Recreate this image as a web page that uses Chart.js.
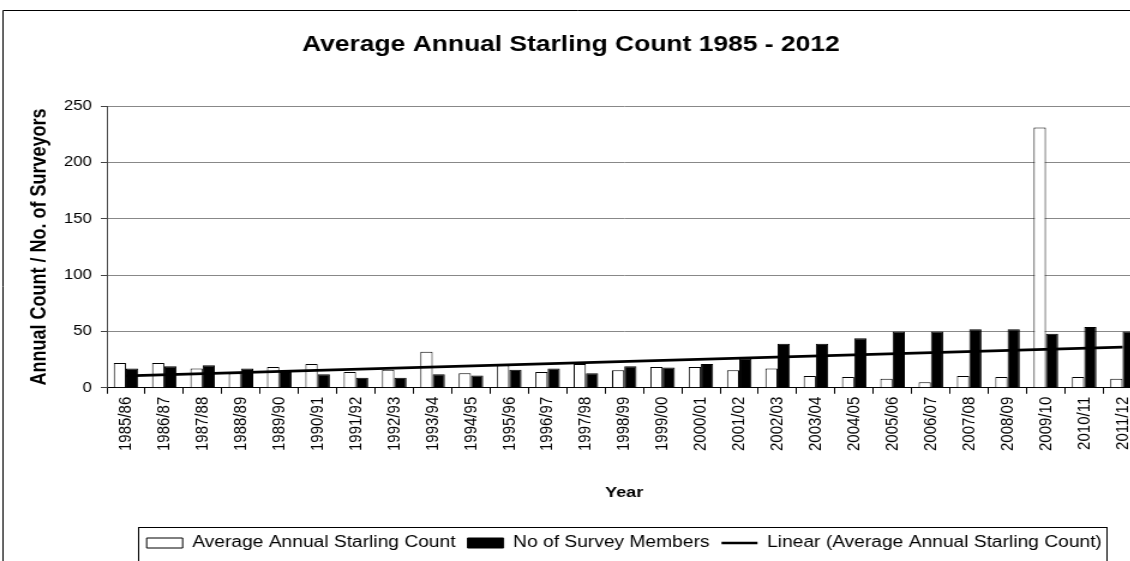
<!DOCTYPE html>
<html>
<head>
<meta charset="utf-8">
<script src="https://cdn.jsdelivr.net/npm/chart.js@4/dist/chart.umd.min.js"></script>
<style>
  html, body { margin: 0; padding: 0; background: #fff; overflow: hidden; }
  #wrap { width: 1130px; height: 561px; overflow: hidden; }
  /* the original Excel chart was stretched sideways, text included */
  #starlings { transform: scaleX(1.2); transform-origin: 0 0; }
</style>
</head>
<body>
<div id="wrap"><canvas id="starlings" width="959" height="561"></canvas></div>
<script>
// values
let years = ["1985/86", "1986/87", "1987/88", "1988/89", "1989/90", "1990/91", "1991/92",
    "1992/93", "1993/94", "1994/95", "1995/96", "1996/97", "1997/98", "1998/99", "1999/00",
    "2000/01", "2001/02", "2002/03", "2003/04", "2004/05", "2005/06", "2006/07", "2007/08",
    "2008/09", "2009/10", "2010/11", "2011/12"]
let starlingCount = [22, 22, 17, 13, 18.5, 21, 14, 16, 32, 13, 20, 14, 21, 15.5, 18.5,
    18.5, 15.5, 17, 10.5, 9.5, 8, 5, 10.5, 9.5, 231, 9.5, 8]
let surveyMembers = [17, 19, 20, 17, 14, 12, 9, 9, 12, 11, 16, 17, 13, 19, 18,
    21, 26, 39, 39, 44, 50, 50, 52, 52, 48, 54, 50]
// end points of the Excel linear trendline
let trendStart = 10.6
let trendEnd = 36.1
let yTicks = [0, 50, 100, 150, 200, 250]

let trend = years.map(() => null)
trend[0] = trendStart
trend[trend.length - 1] = trendEnd

let fontFamily = "'Liberation Sans', Arial, sans-serif"

// outer chart border and the box round the legend
let frames = {
    id: "frames",
    beforeDraw(chart) {
        let ctx = chart.ctx
        ctx.save()
        ctx.strokeStyle = "#000"
        ctx.lineWidth = 1
        ctx.beginPath()
        ctx.moveTo(2.5, 600)
        ctx.lineTo(2.5, 10.5)
        ctx.lineTo(1000, 10.5)
        ctx.stroke()
        ctx.restore()
    },
    afterDraw(chart) {
        let boxes = chart.legend.legendHitBoxes
        if (!boxes || !boxes.length) return
        let left = Math.min(...boxes.map(b => b.left))
        let right = Math.max(...boxes.map(b => b.left + b.width))
        let top = boxes[0].top
        let ctx = chart.ctx
        ctx.save()
        ctx.strokeStyle = "#000"
        ctx.lineWidth = 1
        ctx.strokeRect(Math.round(left - 7) + 0.5, Math.round(top - 8) + 0.5,
            Math.round(right - left + 11), 60)
        ctx.restore()
    }
}

let ctx = document.getElementById("starlings").getContext("2d")
let chart = new Chart(ctx, {
    type: "bar",
    data: {
        labels: years,
        datasets: [{
            label: "Average Annual Starling Count",
            data: starlingCount,
            backgroundColor: "#ffffff",
            borderColor: "#000000",
            borderWidth: 1,
            order: 1
        }, {
            label: "No of Survey Members",
            data: surveyMembers,
            backgroundColor: "#000000",
            borderColor: "#000000",
            borderWidth: 1,
            order: 1
        }, {
            type: "line",
            label: "Linear (Average Annual Starling Count)",
            data: trend,
            borderColor: "#000000",
            borderWidth: 2.6,
            pointRadius: 0,
            spanGaps: true,
            fill: false,
            order: 0
        }]
    },
    options: {
        responsive: false,
        animation: false,
        categoryPercentage: 0.64,
        barPercentage: 1.0,
        layout: { padding: { left: 0, right: 7.6, top: 0, bottom: 0 } },
        plugins: {
            tooltip: { enabled: false },
            title: {
                display: true,
                text: "Average Annual Starling Count 1985 - 2012",
                color: "#000",
                font: { family: fontFamily, size: 22, weight: "bold" },
                padding: { top: 32, bottom: 47.6 }
            },
            legend: {
                position: "bottom",
                fullSize: false,
                labels: {
                    color: "#000",
                    font: { family: fontFamily, size: 16 },
                    usePointStyle: true,
                    pointStyleWidth: 30,
                    boxHeight: 10,
                    padding: 10,
                    generateLabels: (chart) => [
                        { text: "Average Annual Starling Count", fillStyle: "#fff", strokeStyle: "#000",
                          lineWidth: 1, pointStyle: "rect", datasetIndex: 0, fontColor: "#000" },
                        { text: "No of Survey Members", fillStyle: "#000", strokeStyle: "#000",
                          lineWidth: 1, pointStyle: "rect", datasetIndex: 1, fontColor: "#000" },
                        { text: "Linear (Average Annual Starling Count)", fillStyle: "#000", strokeStyle: "#000",
                          lineWidth: 2.5, pointStyle: "line", datasetIndex: 2, fontColor: "#000" }
                    ]
                }
            }
        },
        scales: {
            x: {
                grid: { offset: true, drawOnChartArea: false, tickLength: 6, color: "#000" },
                border: { color: "#000" },
                ticks: {
                    color: "#000",
                    minRotation: 90,
                    maxRotation: 90,
                    autoSkip: false,
                    padding: 3,
                    font: { family: fontFamily, size: 15 }
                },
                title: {
                    display: true,
                    text: "Year",
                    color: "#000",
                    font: { family: fontFamily, size: 15, weight: "bold" },
                    padding: { top: 30, bottom: 23 }
                }
            },
            y: {
                min: 0,
                max: 250,
                afterFit: (scale) => { scale.width = 89 },
                afterBuildTicks: (scale) => { scale.ticks = yTicks.map(v => ({ value: v })) },
                grid: { color: "#888", tickLength: 5, tickColor: "#444" },
                border: { color: "#444" },
                ticks: {
                    color: "#000",
                    padding: 7.5,
                    font: { family: fontFamily, size: 14 }
                },
                title: {
                    display: true,
                    text: "Annual Count / No. of Surveyors",
                    color: "#000",
                    font: { family: fontFamily, size: 18, weight: "bold" },
                    padding: { top: 22.5, bottom: 0 }
                }
            }
        }
    },
    plugins: [frames]
})
</script>
</body>
</html>
